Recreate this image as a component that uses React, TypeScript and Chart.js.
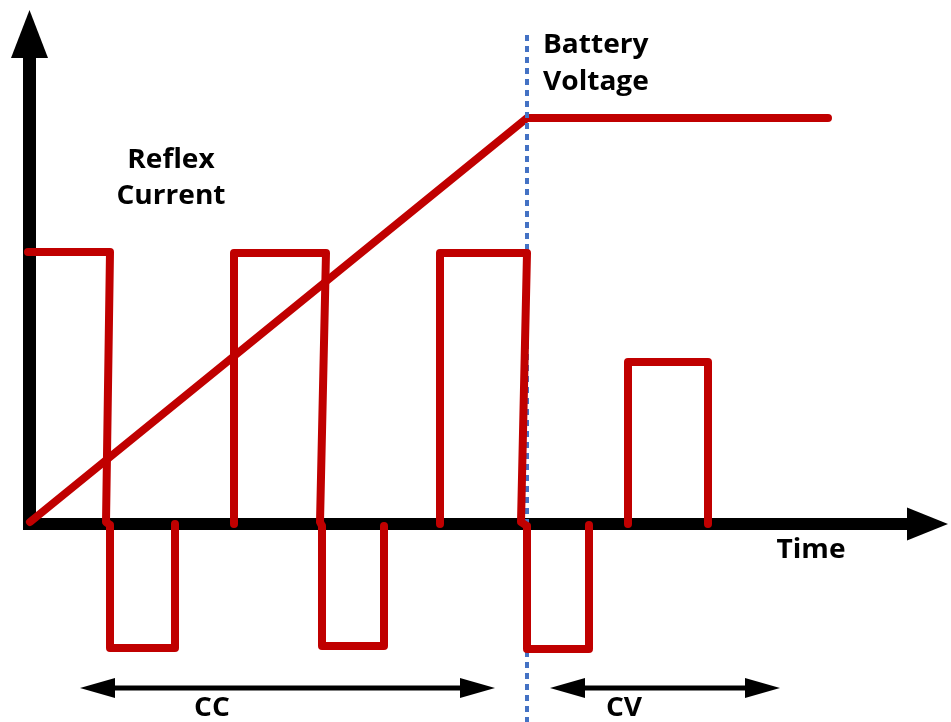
import React, { useEffect, useRef } from "react";
import { Chart, registerables } from "chart.js";

Chart.register(...registerables);

// Time axis units (arbitrary) and amplitude units (arbitrary)
const currentTime = [
  -0.2, 8.0, 7.6, 8.0, 8.0, 14.5, 14.5, null,
  20.4, 20.4, 29.6, 29.0, 29.2, 29.2, 35.4, 35.4, null,
  41.0, 41.0, 49.7, 49.1, 49.7, 49.7, 55.9, 55.9, null,
  59.8, 59.8, 67.8, 67.8,
];
const currentValues = [
  27.2, 27.2, 0.2, -0.1, -12.4, -12.4, 0.0, null,
  0.0, 27.1, 27.1, 0.2, -0.2, -12.2, -12.2, -0.2, null,
  0.0, 27.1, 27.1, 0.2, -0.2, -12.5, -12.5, -0.1, null,
  0.0, 16.2, 16.2, 0.0,
];
const voltageTime = [0.0, 49.7, 79.8];
const voltageValues = [0.2, 40.6, 40.6];
const boundaryTime = [49.7, 49.7];
const boundaryValues = [48.9, -19.8];

const xRange = [-3.0, 92.1];
const yRange = [-19.8, 52.4];

// Annotation texts
const labelTexts = ["Reflex", "Current", "Battery", "Voltage", "Time", "CC", "CV"];
const labelX = [14.1, 14.1, 51.3, 51.3, 78.1, 18.2, 59.4];
const labelY = [35.6, 32.0, 47.1, 43.4, -3.4, -19.2, -19.2];
const labelAlign: CanvasTextAlign[] = ["center", "center", "left", "left", "center", "center", "center"];

// Phase ranges (CC, CV)
const phaseStart = [5.0, 52.0];
const phaseEnd = [46.5, 75.0];
const phaseLevel = -16.4;

const RED = "#C00000";
const BLUE = "#4472C4";
const FONT = "bold 26px 'Open Sans', 'DejaVu Sans', sans-serif";
const TEXT_STRETCH = 1.08;

const annotationPlugin = {
  id: "diagramAnnotations",
  beforeDatasetsDraw(chart: any) {
    const ctx = chart.ctx as CanvasRenderingContext2D;
    const xs = chart.scales.x;
    const ys = chart.scales.y;
    const px = (v: number) => xs.getPixelForValue(v);
    const py = (v: number) => ys.getPixelForValue(v);
    ctx.save();
    ctx.fillStyle = "#000";
    ctx.strokeStyle = "#000";
    // y axis
    const ox = px(-0.05);
    ctx.fillRect(ox - 6.5, py(46.8), 13, py(-0.6) - py(46.8));
    ctx.beginPath();
    ctx.moveTo(ox, py(51.4));
    ctx.lineTo(ox - 18.5, py(46.6));
    ctx.lineTo(ox + 18.5, py(46.6));
    ctx.closePath();
    ctx.fill();
    // x axis
    const oy = py(0);
    ctx.fillRect(px(-0.7), oy - 6, px(88.0) - px(-0.7), 12);
    ctx.beginPath();
    ctx.moveTo(px(91.8), oy);
    ctx.lineTo(px(87.7), oy - 16.5);
    ctx.lineTo(px(87.7), oy + 16.5);
    ctx.closePath();
    ctx.fill();
    ctx.restore();
  },
  afterDatasetsDraw(chart: any) {
    const ctx = chart.ctx as CanvasRenderingContext2D;
    const xs = chart.scales.x;
    const ys = chart.scales.y;
    const px = (v: number) => xs.getPixelForValue(v);
    const py = (v: number) => ys.getPixelForValue(v);
    ctx.save();
    ctx.fillStyle = "#000";
    ctx.strokeStyle = "#000";
    // double arrows
    for (let i = 0; i < phaseStart.length; i++) {
      const a = px(phaseStart[i]);
      const b = px(phaseEnd[i]);
      const y = py(phaseLevel);
      const head = 35;
      ctx.lineWidth = 5;
      ctx.beginPath();
      ctx.moveTo(a + head - 2, y);
      ctx.lineTo(b - head + 2, y);
      ctx.stroke();
      ctx.beginPath();
      ctx.moveTo(a, y);
      ctx.lineTo(a + head, y - 10);
      ctx.lineTo(a + head, y + 10);
      ctx.closePath();
      ctx.fill();
      ctx.beginPath();
      ctx.moveTo(b, y);
      ctx.lineTo(b - head, y - 10);
      ctx.lineTo(b - head, y + 10);
      ctx.closePath();
      ctx.fill();
    }
    // labels
    ctx.font = FONT;
    ctx.textBaseline = "alphabetic";
    for (let i = 0; i < labelTexts.length; i++) {
      ctx.save();
      ctx.translate(px(labelX[i]), py(labelY[i]));
      ctx.scale(TEXT_STRETCH, 1);
      ctx.textAlign = labelAlign[i];
      ctx.fillText(labelTexts[i], 0, 0);
      ctx.restore();
    }
    ctx.restore();
  },
};

export default function App() {
  const canvasRef = useRef<HTMLCanvasElement | null>(null);

  useEffect(() => {
    const canvas = canvasRef.current;
    if (!canvas) return;
    const toPts = (xsArr: (number | null)[], ysArr: (number | null)[]) =>
      xsArr.map((x, i) => (x === null ? { x: NaN, y: NaN } : { x, y: ysArr[i] as number }));

    const chart = new Chart(canvas, {
      type: "scatter",
      data: {
        datasets: [
          {
            label: "Reflex Current",
            data: toPts(currentTime, currentValues),
            showLine: true,
            borderColor: RED,
            borderWidth: 8,
            borderCapStyle: "round",
            borderJoinStyle: "round",
            pointRadius: 0,
            spanGaps: false,
            tension: 0,
          },
          {
            label: "CC/CV boundary",
            data: toPts(boundaryTime, boundaryValues),
            showLine: true,
            borderColor: BLUE,
            borderWidth: 4,
            borderDash: [6, 5],
            borderCapStyle: "butt",
            pointRadius: 0,
          },
          {
            label: "Battery Voltage",
            data: toPts(voltageTime, voltageValues),
            showLine: true,
            borderColor: RED,
            borderWidth: 8,
            borderCapStyle: "round",
            borderJoinStyle: "round",
            pointRadius: 0,
          },
        ],
      },
      options: {
        animation: false,
        responsive: false,
        devicePixelRatio: 1,
        layout: { padding: 0 },
        plugins: { legend: { display: false }, tooltip: { enabled: false } },
        events: [],
        scales: {
          x: { type: "linear", min: xRange[0], max: xRange[1], display: false },
          y: { type: "linear", min: yRange[0], max: yRange[1], display: false },
        },
      },
      plugins: [annotationPlugin],
    } as any);
    return () => chart.destroy();
  }, []);

  return (
    <div style={{ position: "fixed", left: 0, top: 0, width: 951, height: 722, background: "#fff" }}>
      <canvas ref={canvasRef} width={951} height={722} style={{ width: 951, height: 722, display: "block" }} />
    </div>
  );
}
